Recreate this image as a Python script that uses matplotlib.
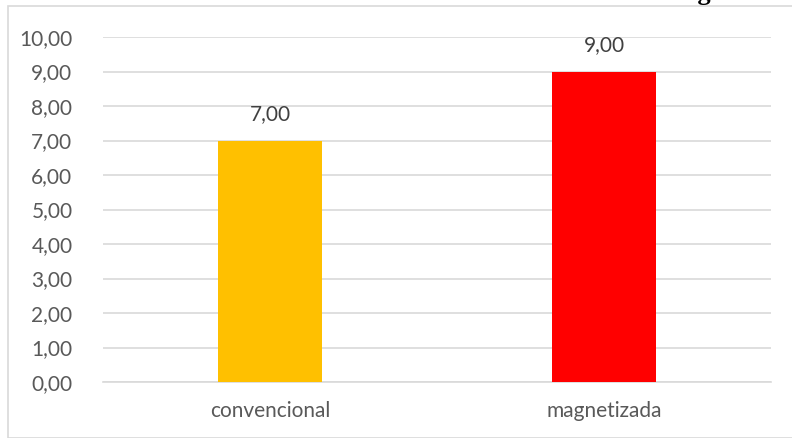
import matplotlib.pyplot as plt
from matplotlib.patches import Rectangle

# Chart data
categories = ['convencional', 'magnetizada']
values = [7.0, 9.0]
bar_colors = ['#FFC000', '#FF0000']
y_ticks = [0, 1, 2, 3, 4, 5, 6, 7, 8, 9, 10]


def fmt(v):
    # Portuguese decimal comma
    return '{:.2f}'.format(v).replace('.', ',')


plt.rcParams['font.family'] = ['Lato', 'DejaVu Sans']

fig = plt.figure(figsize=(7.92, 4.38), dpi=100)
ax = fig.add_axes([103 / 792, 1 - 382 / 438, 668 / 792, 345 / 438])

# outer chart frame
fig.patches.append(Rectangle((8 / 792, 0), 1, 1 - 6 / 438, transform=fig.transFigure,
                             fill=False, edgecolor='#D9D9D9', linewidth=1.2))

# caption, mostly cut off at the top edge as in the source
fig.text(0.01, 1.0, 'Gráfico 1: Média da tara das duas classes: convencional e magnetizada',
         ha='left', va='baseline', fontsize=19, fontweight='bold',
         family=['Liberation Serif', 'DejaVu Serif'], color='black')

x = range(len(categories))
bars = ax.bar(x, values, width=0.31, color=bar_colors, zorder=3)
for b, v in zip(bars, values):
    ax.annotate(fmt(v), (b.get_x() + b.get_width() / 2, v), xytext=(0, 12),
                textcoords='offset points', ha='center', va='bottom',
                fontsize=15, color='#404040')

ax.set_xlim(-0.5, 1.5)
ax.set_ylim(0, 10)
ax.set_yticks(y_ticks)
ax.set_yticklabels([fmt(t) for t in y_ticks])
ax.set_xticks(list(x))
ax.set_xticklabels(categories)
ax.tick_params(axis='both', length=0, labelsize=15, colors='#595959')
ax.tick_params(axis='y', pad=22)
ax.tick_params(axis='x', pad=14)
ax.grid(axis='y', color='#D9D9D9', linewidth=1.2, zorder=0)
for s in ['top', 'right', 'left']:
    ax.spines[s].set_visible(False)
ax.spines['bottom'].set_color('#D9D9D9')
ax.spines['bottom'].set_linewidth(1.2)

fig.savefig('out.png', dpi=100)
